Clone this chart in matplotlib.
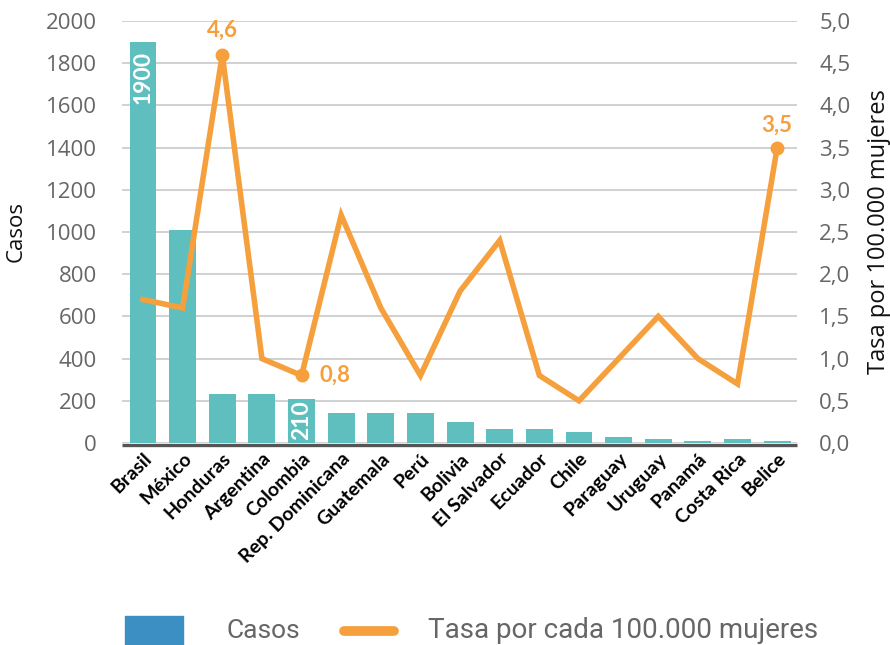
import matplotlib
matplotlib.use("Agg")
import matplotlib.pyplot as plt
import matplotlib.transforms as mtransforms
from matplotlib.patches import Rectangle
from matplotlib.lines import Line2D

paises = ["Brasil", "México", "Honduras", "Argentina", "Colombia",
          "Rep. Dominicana", "Guatemala", "Perú", "Bolivia", "El Salvador",
          "Ecuador", "Chile", "Paraguay", "Uruguay", "Panamá", "Costa Rica",
          "Belice"]
casos = [1900, 1010, 230, 230, 210, 140, 140, 140, 100, 65, 65, 50, 30,
         20, 10, 20, 10]
tasa = [1.7, 1.6, 4.6, 1.0, 0.8, 2.7, 1.6, 0.8, 1.8, 2.4, 0.8, 0.5, 1.0,
        1.5, 1.0, 0.7, 3.5]
casos_ticks = [0, 200, 400, 600, 800, 1000, 1200, 1400, 1600, 1800, 2000]
tasa_ticks = [0.0, 0.5, 1.0, 1.5, 2.0, 2.5, 3.0, 3.5, 4.0, 4.5, 5.0]
casos_etiquetados = ["Brasil", "Colombia"]
tasa_etiquetada = ["Honduras", "Colombia", "Belice"]

C_BAR = "#5fbfbe"
C_LINE = "#f5a03c"
C_LEG = "#3b8fc2"
C_GRID = "#c9c9c9"
C_TICK = "#666666"

plt.rcParams["font.family"] = ["Open Sans", "DejaVu Sans"]

fig = plt.figure(figsize=(8.9, 6.45), dpi=100)
ax = fig.add_axes([122 / 890, 1 - 443 / 645, (797 - 122) / 890, (443 - 21) / 645])
ax2 = ax.twinx()

x = list(range(len(paises)))
ax.bar(x, casos, width=0.68, color=C_BAR, zorder=4)
ax.set_xlim(-0.53, len(paises) - 0.5)
ax.set_ylim(0, 2000)
ax.set_yticks(casos_ticks)
ax.set_yticklabels([str(v) for v in casos_ticks])
ax.yaxis.grid(True, color=C_GRID, linewidth=1.2, zorder=0)
ax.set_axisbelow(True)

# dark base line sitting just below the zero level
base_tr = ax.get_yaxis_transform() + mtransforms.ScaledTranslation(
    0, -1.6 / 100, fig.dpi_scale_trans)
ax.plot([0, 1], [0, 0], transform=base_tr, color="#555555", linewidth=2.4,
        zorder=5, solid_capstyle="butt", clip_on=False)

for s in ax.spines.values():
    s.set_visible(False)
for s in ax2.spines.values():
    s.set_visible(False)
ax.tick_params(axis="y", length=0, pad=18, labelsize=16, labelcolor=C_TICK)
ax.tick_params(axis="x", length=0, pad=5)
ax.set_xticks(x)
ax.set_xticklabels(paises, rotation=45, ha="right", rotation_mode="anchor",
                   fontsize=14, fontweight="bold", family=["Lato", "DejaVu Sans"])
ax.set_ylabel("Casos", fontsize=16, color="#111111", labelpad=14)

ax2.plot(x, tasa, color=C_LINE, linewidth=4, solid_joinstyle="miter", zorder=4)
ax2.set_ylim(0, 5)
ax2.set_yticks(tasa_ticks)
ax2.set_yticklabels([f"{v:.1f}".replace(".", ",") for v in tasa_ticks])
ax2.tick_params(axis="y", length=0, pad=16, labelsize=16, labelcolor=C_TICK)
ax2.set_ylabel("Tasa por 100.000 mujeres", fontsize=17, color="#111111", labelpad=12)

# value labels inside bars
offsets_bar = {"Brasil": -9, "Colombia": -2}
for p in casos_etiquetados:
    i = paises.index(p)
    ax.annotate(str(casos[i]), (i, casos[i]), xytext=(0, offsets_bar[p]),
                textcoords="offset pixels", rotation=90, ha="center", va="top",
                color="white", fontsize=16.5, fontweight="bold",
                family=["Lato", "DejaVu Sans"], zorder=6)

# rate markers and labels
offsets_tasa = {"Honduras": (0, 14, "center", "bottom"),
                "Colombia": (18, 0, "left", "center"),
                "Belice": (0, 12, "center", "bottom")}
for p in tasa_etiquetada:
    i = paises.index(p)
    ax2.plot(i, tasa[i], "o", color=C_LINE, markersize=9, zorder=5)
    dx, dy, ha, va = offsets_tasa[p]
    ax2.annotate(f"{tasa[i]:.1f}".replace(".", ","), (i, tasa[i]), xytext=(dx, dy),
                 textcoords="offset pixels", ha=ha, va=va, color=C_LINE,
                 fontsize=16, fontweight="bold", family=["Lato", "DejaVu Sans"])

# legend
fig.patches.append(Rectangle((125 / 890, 0), 58 / 890, 29 / 645,
                             transform=fig.transFigure, color=C_LEG))
fig.text(227 / 890, 1 - 631 / 645, "Casos", ha="left", va="center",
         fontsize=19, color=C_TICK, family=["Roboto", "DejaVu Sans"])
fig.lines.append(Line2D([344 / 890, 394 / 890], [1 - 631 / 645, 1 - 631 / 645],
                        transform=fig.transFigure, color=C_LINE, linewidth=7,
                        solid_capstyle="round"))
fig.text(428 / 890, 1 - 631 / 645, "Tasa por cada 100.000 mujeres", ha="left",
         va="center", fontsize=20, color=C_TICK, family=["Roboto", "DejaVu Sans"])

fig.savefig("out.png", dpi=100)
